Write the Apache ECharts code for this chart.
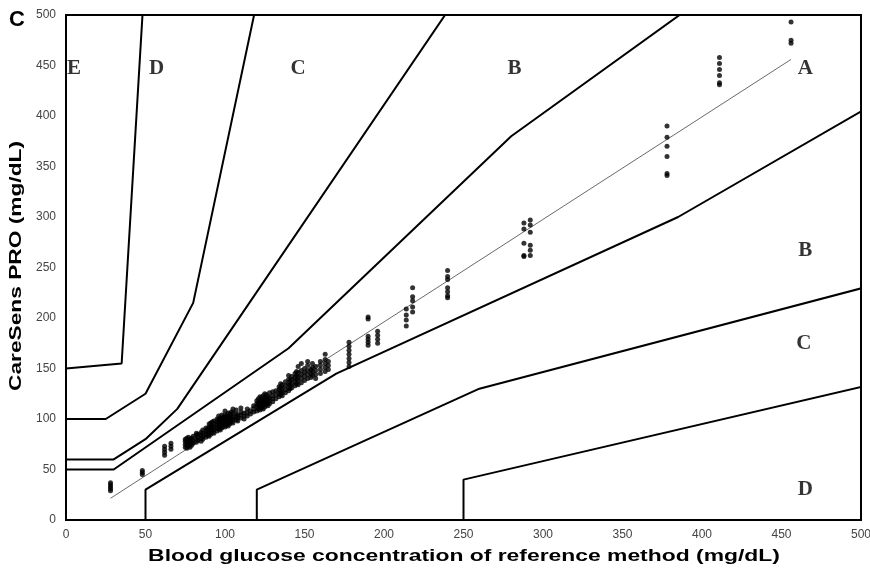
<!DOCTYPE html>
<html>
<head>
<meta charset="utf-8">
<script src="https://cdn.jsdelivr.net/npm/echarts@6/dist/echarts.min.js"></script>
<style>html,body{margin:0;padding:0;background:#fff}#c{width:870px;height:575px}</style>
</head>
<body>
<div id="c"></div>
<script>
// Axis ticks
const xTicks = [0, 50, 100, 150, 200, 250, 300, 350, 400, 450, 500];
const yTicks = [0, 50, 100, 150, 200, 250, 300, 350, 400, 450, 500];

// Parkes (consensus) error grid boundaries, [reference, meter] in mg/dL
const zoneA_upper = [[0,50],[30,50],[140,170],[280,380],[430,550]];
const zoneA_lower = [[50,0],[50,30],[170,145],[385,300],[550,450]];
const zoneB_upper = [[0,60],[30,60],[50,80],[70,110],[260,550]];
const zoneB_lower = [[120,0],[120,30],[260,130],[550,250]];
const zoneC_upper = [[0,100],[25,100],[50,125],[80,215],[125,550]];
const zoneC_lower = [[250,0],[250,40],[550,150]];
const zoneD_upper = [[0,150],[35,155],[50,550]];

// Regression line end points
const fitLine = [[28,21.5],[456,456]];

// Zone labels
const zoneLabelText = ['E','D','C','B','A','B','C','D'];
const zoneLabelX = [5, 57, 146, 282, 465, 465, 464, 465];
const zoneLabelY = [447, 447, 447, 447, 447, 267, 175, 30];

const readings = [
 [28,29],[28,31],[28,33],[28,35],[28,37],
 [48,45],[48,47],[48,49],
 [62,64],[62,67],[62,70],[62,73],
 [66,70],[66,73],[66,76],
 [75,72],[75,75],[75,78],[75,80],
 [76,71],[76,74],[76,77],[76,81],
 [77,73],[77,76],[77,79],[77,82],
 [78,72],[78,75],[78,78],[78,80],
 [79,74],[79,77],[79,81],
 [80,76],[80,79],[80,83],
 [82,77],[82,80],[82,84],[82,86],
 [83,79],[83,82],[83,85],
 [85,78],[85,81],[85,84],[85,87],
 [86,80],[86,83],[86,86],[86,89],
 [88,82],[88,85],[88,88],[88,91],
 [89,84],[89,87],[89,90],
 [90,83],[90,86],[90,89],[90,92],[90,95],
 [91,85],[91,88],[91,92],[91,96],
 [92,87],[92,90],[92,93],[92,97],
 [93,86],[93,89],[93,92],[93,95],[93,98],
 [95,88],[95,91],[95,94],[95,97],[95,100],
 [96,90],[96,93],[96,96],[96,99],[96,103],
 [97,89],[97,92],[97,95],[97,98],[97,101],
 [98,91],[98,94],[98,97],[98,100],[98,104],
 [99,93],[99,96],[99,99],[99,102],
 [100,92],[100,95],[100,98],[100,101],[100,104],[100,108],
 [101,94],[101,97],[101,100],[101,103],
 [102,93],[102,96],[102,99],[102,102],[102,106],
 [103,95],[103,98],[103,101],[103,105],
 [104,97],[104,100],[104,103],[104,107],
 [105,96],[105,99],[105,102],[105,106],[105,110],
 [107,99],[107,102],[107,105],[107,109],
 [108,98],[108,101],[108,104],
 [110,101],[110,104],[110,107],[110,111],
 [112,100],[112,103],[112,106],
 [114,103],[114,106],[114,110],
 [116,105],[116,108],
 [118,107],[118,110],[118,113],
 [120,108],[120,112],[120,115],[120,118],
 [121,110],[121,113],[121,116],[121,120],
 [122,109],[122,112],[122,115],[122,118],[122,122],
 [123,111],[123,114],[123,117],[123,121],
 [124,110],[124,113],[124,116],[124,119],[124,123],
 [125,112],[125,115],[125,118],[125,121],[125,125],
 [126,114],[126,117],[126,120],[126,124],
 [127,113],[127,116],[127,119],[127,122],
 [128,115],[128,118],[128,121],[128,126],
 [130,117],[130,120],[130,123],[130,127],
 [132,120],[132,124],[132,128],
 [134,122],[134,125],[134,129],[134,132],
 [135,124],[135,127],[135,131],[135,135],
 [136,123],[136,126],[136,130],[136,134],
 [138,126],[138,129],[138,133],[138,137],
 [140,128],[140,131],[140,135],[140,139],[140,143],
 [141,130],[141,134],[141,138],
 [142,131],[142,135],[142,139],[142,142],
 [144,133],[144,137],[144,141],[144,145],
 [145,135],[145,139],[145,143],[145,147],
 [146,134],[146,138],[146,142],[146,146],[146,152],
 [148,136],[148,140],[148,144],[148,148],[148,155],
 [150,138],[150,142],[150,146],[150,150],
 [152,140],[152,144],[152,148],[152,153],[152,157],
 [154,141],[154,145],[154,149],
 [155,143],[155,147],[155,151],[155,155],
 [157,140],[157,144],[157,148],[157,152],
 [160,145],[160,149],[160,153],[160,157],
 [163,147],[163,151],[163,155],[163,159],[163,164],
 [165,149],[165,153],[165,157],
 [178,152],[178,156],[178,160],[178,164],[178,168],[178,172],[178,176],
 [190,173],[190,176],[190,179],[190,182],[190,199],[190,201],
 [196,175],[196,179],[196,183],[196,187],
 [214,192],[214,198],[214,203],[214,209],
 [218,206],[218,211],[218,217],[218,221],[218,230],
 [240,220],[240,222],[240,226],[240,230],[240,238],[240,241],[240,247],
 [288,261],[288,262],[288,274],[288,288],[288,294],
 [292,262],[292,267],[292,272],[292,285],[292,292],[292,297],
 [378,341],[378,343],[378,360],[378,370],[378,379],[378,390],
 [411,431],[411,433],[411,440],[411,446],[411,452],[411,458],
 [456,472],[456,475],[456,493]
];

const boundaryLines = [zoneA_upper, zoneA_lower, zoneB_upper, zoneB_lower, zoneC_upper, zoneC_lower, zoneD_upper];

const chart = echarts.init(document.getElementById('c'));
const tickFont = {color:'#444', fontSize:12, fontFamily:'Liberation Sans, Arial, sans-serif'};

const series = boundaryLines.map(d => ({
  type:'line', data:d, symbol:'none', clip:true, silent:true,
  lineStyle:{color:'#000', width:2}, z:3
}));
series.push({
  type:'line', data:fitLine, symbol:'none', silent:true,
  lineStyle:{color:'#444', width:0.8}, z:2
});
series.push({
  type:'scatter', data:readings, symbol:'circle', symbolSize:5,
  itemStyle:{color:'#000'}, z:4
});
series.push({
  type:'scatter', symbolSize:0, silent:true, z:5,
  data: zoneLabelText.map((t,i) => ({name:t, value:[zoneLabelX[i], zoneLabelY[i]]})),
  label:{show:true, position:'inside', formatter:p => p.name,
    color:'#000', fontSize:21, fontWeight:'bold', fontFamily:'Liberation Serif, Times New Roman, serif'}
});

chart.setOption({
  animation:false,
  backgroundColor:'#fff',
  grid:{left:66, right:9, top:15, bottom:55, show:true, borderColor:'#000', borderWidth:2,
    containLabel:false, outerBoundsMode:'none'},
  xAxis:{type:'value', min:0, max:500, interval:50,
    axisLine:{show:true, lineStyle:{color:'#000', width:2}},
    axisTick:{show:false}, splitLine:{show:false},
    axisLabel:Object.assign({margin:9, formatter:v => xTicks.includes(v) ? String(v) : ''}, tickFont)},
  yAxis:{type:'value', min:0, max:500, interval:50,
    axisLine:{show:true, lineStyle:{color:'#000', width:2}},
    axisTick:{show:false}, splitLine:{show:false},
    axisLabel:Object.assign({margin:10, formatter:v => yTicks.includes(v) ? String(v) : ''}, tickFont)},
  graphic:[
    {type:'text', left:9, top:9, style:{text:'C', font:'bold 22px "Liberation Sans", Arial, sans-serif', fill:'#000'}},
    {type:'text', x:17, y:266, rotation:Math.PI/2, scaleX:1.42,
      style:{text:'CareSens PRO (mg/dL)', font:'bold 16px "Liberation Sans", Arial, sans-serif', fill:'#000', align:'center', verticalAlign:'middle'}},
    {type:'text', x:464, y:557, scaleX:1.43,
      style:{text:'Blood glucose concentration of reference method (mg/dL)', font:'bold 16px "Liberation Sans", Arial, sans-serif', fill:'#000', align:'center', verticalAlign:'middle'}}
  ],
  series:series
});
</script>
</body>
</html>
